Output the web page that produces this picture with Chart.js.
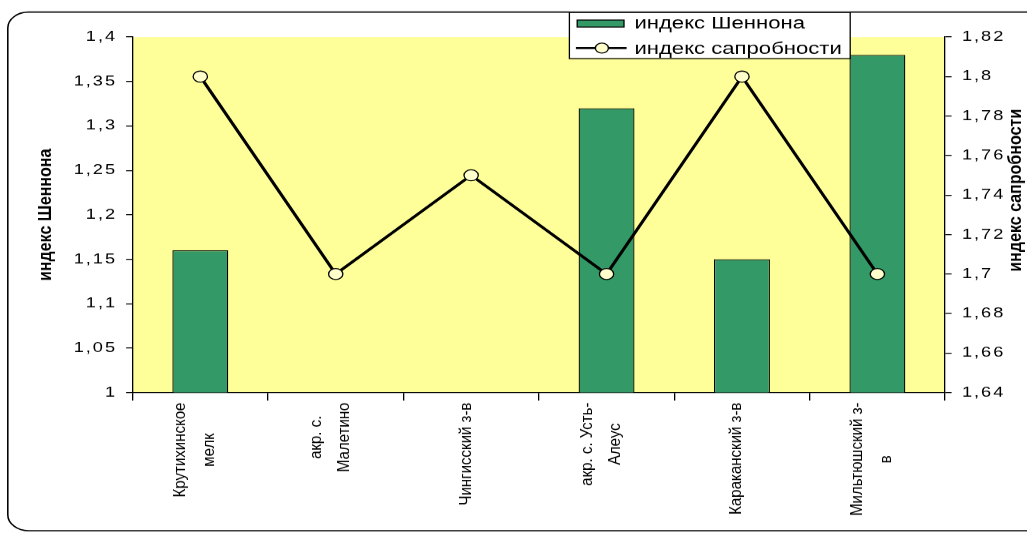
<!DOCTYPE html>
<html lang="ru">
<head>
<meta charset="UTF-8">
<title>Индекс Шеннона и индекс сапробности</title>
<script src="https://cdn.jsdelivr.net/npm/chart.js@4.4.0/dist/chart.umd.min.js"></script>
<style>
  body { margin: 0; background: #fff; }
  canvas { display: block; }
</style>
</head>
<body>
<!-- drawn at 790px wide and stretched to 1027px on the page -->
<canvas id="chart" width="790" height="533" style="width:1027px;height:533px"></canvas>
<script>
const stations = [
  ['Крутихинское', 'мелк'],
  ['акр. с.', 'Малетино'],
  ['Чингисский з-в'],
  ['акр. с. Усть-', 'Алеус'],
  ['Караканский з-в'],
  ['Мильтюшский з-', 'в']
];
const shannon = [1.16, null, null, 1.32, 1.15, 1.38];
const saprobity = [1.8, 1.7, 1.75, 1.7, 1.8, 1.7];

const shannonRange = [1, 1.4];
const shannonStep = 0.05;
const saprobityRange = [1.64, 1.82];
const saprobityStep = 0.02;

const SX = 1027 / 790;   // horizontal stretch of the canvas
const FONT = '"Liberation Sans", Arial, sans-serif';

const comma = v => String(+v.toFixed(2)).replace('.', ',');

function vertText(ctx, text, x, y, squeeze) {
  ctx.save();
  ctx.translate(x, y);
  ctx.scale(squeeze, 1);
  ctx.rotate(-Math.PI / 2);
  ctx.fillText(text, 0, 0);
  ctx.restore();
}

const decor = {
  id: 'decor',
  beforeDraw(chart) {
    const { ctx, chartArea: a } = chart;
    ctx.save();
    ctx.fillStyle = '#fff';
    ctx.fillRect(0, 0, chart.width, chart.height);
    // rounded outer frame
    ctx.beginPath();
    ctx.roundRect(6, 12, 810, 518, 16);
    ctx.strokeStyle = '#000';
    ctx.lineWidth = 1.2;
    ctx.stroke();
    // plot area
    ctx.fillStyle = '#ffff99';
    ctx.fillRect(a.left, a.top, a.right - a.left, a.bottom - a.top);
    ctx.restore();
    ctx.letterSpacing = '1.5px';
  },
  afterDraw(chart) {
    const { ctx, chartArea: a } = chart;
    const x = chart.scales.x;
    ctx.letterSpacing = '0px';
    ctx.save();
    ctx.fillStyle = '#000';
    ctx.textBaseline = 'middle';
    ctx.textAlign = 'center';

    // category labels, rotated, lines centred on each other
    ctx.font = '15px ' + FONT;
    stations.forEach((lines, i) => {
      const w = Math.max(...lines.map(l => ctx.measureText(l).width));
      const px = x.getPixelForTick(i) - 4;
      lines.forEach((l, j) => {
        const off = (j - (lines.length - 1) / 2) * 22;
        vertText(ctx, l, px + off, x.top + 10 + w / 2, 0.85);
      });
    });

    // axis titles
    ctx.font = 'bold 16px ' + FONT;
    vertText(ctx, 'индекс Шеннона', 46 / SX, (a.top + a.bottom) / 2, 0.85);
    vertText(ctx, 'индекс сапробности', 1016 / SX, 190, 0.85);

    // legend box
    const [bars, line] = chart.data.datasets;
    ctx.fillStyle = '#fff';
    ctx.fillRect(438, 12, 216, 46);
    ctx.strokeStyle = '#000';
    ctx.lineWidth = 1;
    ctx.strokeRect(438, 12.5, 216, 46);

    ctx.fillStyle = bars.backgroundColor;
    ctx.fillRect(444, 20, 36, 7);
    ctx.strokeRect(444, 20, 36, 7);

    ctx.beginPath();
    ctx.moveTo(443, 48);
    ctx.lineTo(482, 48);
    ctx.lineWidth = 2;
    ctx.stroke();
    ctx.beginPath();
    ctx.arc(463, 48, 5, 0, Math.PI * 2);
    ctx.fillStyle = line.pointBackgroundColor;
    ctx.fill();
    ctx.lineWidth = 1;
    ctx.stroke();

    ctx.fillStyle = '#000';
    ctx.textAlign = 'left';
    ctx.font = '17px ' + FONT;
    ctx.fillText(bars.label, 488, 24);
    ctx.fillText(line.label, 488, 49);
    ctx.restore();
  }
};

const tickFont = { family: FONT, size: 14 };

new Chart(document.getElementById('chart'), {
  data: {
    labels: stations,
    datasets: [
      {
        type: 'bar',
        label: 'индекс Шеннона',
        data: shannon,
        yAxisID: 'y',
        backgroundColor: '#339966',
        borderColor: '#000',
        borderWidth: 1,
        barPercentage: 0.413,
        categoryPercentage: 1,
        order: 2
      },
      {
        type: 'line',
        label: 'индекс сапробности',
        data: saprobity,
        yAxisID: 'y1',
        borderColor: '#000',
        borderWidth: 2.5,
        tension: 0,
        pointRadius: 5.5,
        pointBackgroundColor: '#ffffcc',
        pointBorderColor: '#000',
        pointBorderWidth: 1,
        order: 1
      }
    ]
  },
  options: {
    responsive: false,
    animation: false,
    devicePixelRatio: SX,
    layout: { padding: { top: 37, left: 0, right: 0, bottom: 0 } },
    plugins: {
      legend: { display: false },
      tooltip: { enabled: false }
    },
    scales: {
      x: {
        offset: true,
        ticks: { display: false },
        grid: { offset: true, drawOnChartArea: false, tickLength: 8, color: '#000' },
        border: { color: '#000' },
        afterFit: s => { s.height = 141; }
      },
      y: {
        position: 'left',
        min: shannonRange[0],
        max: shannonRange[1],
        ticks: { stepSize: shannonStep, callback: comma, color: '#000', font: tickFont, padding: 7 },
        grid: { drawOnChartArea: false, tickLength: 5, color: '#000' },
        border: { color: '#000' },
        afterFit: s => { s.width = 102; }
      },
      y1: {
        position: 'right',
        min: saprobityRange[0],
        max: saprobityRange[1],
        ticks: { stepSize: saprobityStep, callback: comma, color: '#000', font: tickFont, padding: 8 },
        grid: { drawOnChartArea: false, tickLength: 5, color: '#000' },
        border: { color: '#000' },
        afterFit: s => { s.width = 63; }
      }
    }
  },
  plugins: [decor]
});
</script>
</body>
</html>
